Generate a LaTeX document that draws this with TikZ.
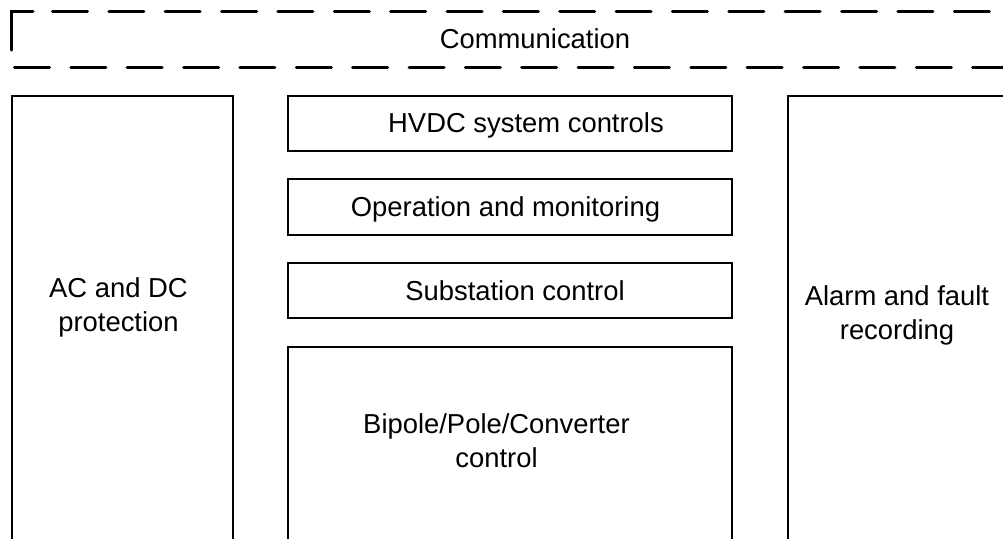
\documentclass[tikz,border=0pt]{standalone}
\usepackage{fontspec}
\setmainfont{Liberation Sans}
\usetikzlibrary{positioning}

\tikzset{
    blk/.style={draw, line width=1pt},
    lbl/.style={font=\fontsize{13.7}{17}\selectfont, align=center, inner sep=0pt, anchor=base},
    band/.style={line width=1.5pt, line cap=round, dash pattern=on 17.5pt off 10.68pt}
}

\begin{document}
\begin{tikzpicture}[x=0.5pt,y=-0.5pt]
        \useasboundingbox (0,0) rectangle (1003,538);
        \clip (0,0) rectangle (1003,538);

        % Communication band
        \draw[line width=1.5pt, line cap=round] (11,50) -- (11,11) -- (33,11);
        \draw[band] (52.5,11) -- (1020,11);
        \draw[band] (14.5,67) -- (1020,67);
        \node[lbl] (comm) at (535,48) {Communication};

        % side boxes, open at the bottom
        \draw[blk] (12,560) -- (12,96) -- (233,96) -- (233,560);
        \draw[blk] (788,560) -- (788,96) -- (1020,96);

        % stack of control levels
        \draw[blk] (288,96) rectangle (732,151);
        \draw[blk] (288,179) rectangle (732,235);
        \draw[blk] (288,263) rectangle (732,318);
        \draw[blk] (288,560) -- (288,347) -- (732,347) -- (732,560);

        % labels (base = last line)
        \node[lbl] (prot) at (118.5,331) {AC and DC\\protection};
        \node[lbl] (alarm) at (897,339) {Alarm and fault\\recording};
        \node[lbl] (hvdc) at (526,132) {HVDC system controls};
        \node[lbl] (oper) at (505.5,216) {Operation and monitoring};
        \node[lbl] (subst) at (515,300) {Substation control};
        \node[lbl] (conv) at (496.5,467) {Bipole/Pole/Converter\\control};

    \end{tikzpicture}
\end{document}
